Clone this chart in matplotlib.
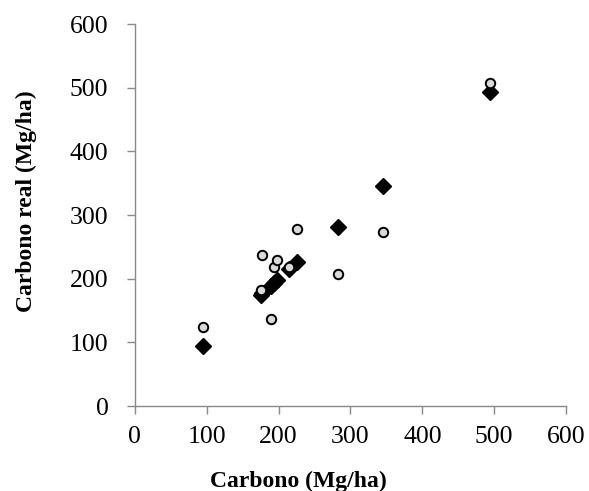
import matplotlib
matplotlib.use("Agg")
import matplotlib.pyplot as plt

# Carbono estimado (x) y carbono real (y)
carbono = [95, 175, 177, 189, 194, 198, 215, 226, 282, 345, 494]
carbono_real = [124, 183, 237, 136, 219, 229, 219, 278, 207, 273, 508]
# Linea 1:1 marcada con rombos
carbono_ref = [95, 175, 177, 189, 194, 198, 215, 226, 282, 345, 494]

ticks = [0, 100, 200, 300, 400, 500, 600]

plt.rcParams["font.family"] = ["Liberation Serif", "DejaVu Serif"]

fig = plt.figure(figsize=(5.89, 4.91), dpi=100)
ax = fig.add_axes([0.229, 0.173, 0.732, 0.778])

ax.plot(carbono, carbono_ref, linestyle="none", marker="D", markersize=7.8,
        color="black", zorder=2)
ax.plot(carbono, carbono_real, linestyle="none", marker="o", markersize=6.8,
        markerfacecolor="#d9d9d9", markeredgecolor="black",
        markeredgewidth=1.4, zorder=3)

ax.set_xlim(0, 600)
ax.set_ylim(0, 600)
ax.set_xticks(ticks)
ax.set_yticks(ticks)
ax.tick_params(labelsize=18.5, color="#898989", length=6, width=1)
ax.tick_params(axis="x", pad=8)
ax.tick_params(axis="y", pad=13)

for side in ("top", "right"):
    ax.spines[side].set_visible(False)
for side in ("left", "bottom"):
    ax.spines[side].set_color("#898989")
    ax.spines[side].set_linewidth(1)

ax.set_xlabel("Carbono (Mg/ha)", fontsize=17, fontweight="bold", labelpad=17,
              x=0.38)
ax.set_ylabel("Carbono real (Mg/ha)", fontsize=17, fontweight="bold",
              labelpad=24, y=0.537)

fig.savefig("out.png", dpi=100)
